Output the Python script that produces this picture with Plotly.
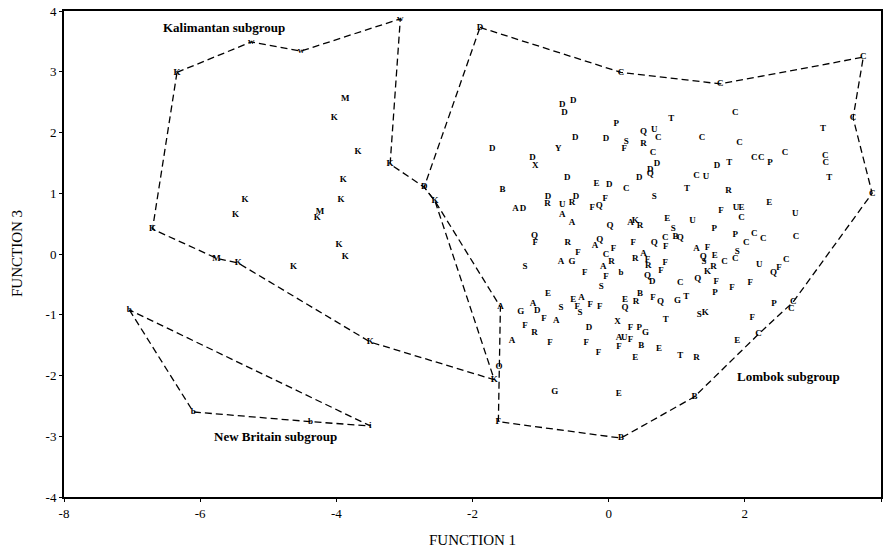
import plotly.graph_objects as go

# ---------------- data (discriminant scores) ----------------
# Kalimantan subgroup hull (vertex labels and coordinates)
kal_hull_labels = ["K", "w", "w", "w", "K", "D", "K", "K", "K", "K", "M", "K"]
kal_hull_f1 = [-6.34, -5.25, -4.52, -3.06, -3.21, -2.71, -2.55, -1.68, -3.50, -5.44, -5.76, -6.70]
kal_hull_f3 = [2.99, 3.49, 3.34, 3.87, 1.48, 1.10, 0.87, -2.07, -1.45, -0.15, -0.07, 0.41]

# Kalimantan interior points
kal_labels = ["M", "K", "K", "K", "K", "K", "K", "M", "K", "K", "K", "K"]
kal_f1 = [-3.87, -4.03, -3.68, -3.90, -5.34, -3.93, -5.48, -4.24, -4.28, -3.96, -3.87, -4.63]
kal_f3 = [2.55, 2.25, 1.68, 1.23, 0.90, 0.90, 0.64, 0.69, 0.59, 0.15, -0.05, -0.21]

# New Britain subgroup hull
nb_labels = ["b", "b", "b", "i"]
nb_f1 = [-7.04, -6.10, -4.38, -3.50]
nb_f3 = [-0.92, -2.60, -2.76, -2.83]

# Lombok subgroup hull (last two vertices shared with Kalimantan hull)
lom_hull_labels = ["D", "C", "C", "C", "C", "C", "C", "C", "B", "B", "F", "O", "A", "", ""]
lom_hull_f1 = [-1.89, 0.18, 1.64, 3.74, 3.59, 3.87, 2.71, 2.20, 1.26, 0.18, -1.62, -1.61, -1.59, -2.55, -2.71]
lom_hull_f3 = [3.73, 2.99, 2.80, 3.24, 2.24, 1.00, -0.79, -1.32, -2.35, -3.03, -2.76, -1.86, -0.87, 0.87, 1.10]

# Lombok interior points (labels in groups of ten)
lom_labels = list(
    "DDDPTQUCDD" "SFRDYDXCDD" "QDDBEDCSTD" "RDRUFQFADA" "AQAKRESBQC"
    "QFRFQAFQFC" "FRAGSFAFbR" "AFRFFQDCSE" "EAFSFFEQRB" "FQGTSGADFA"
    "DXTFRAFFFP" "GAUFFBEFET" "RGEUPPCCCA" "FQSERCCSCU" "QFCQKFPFFP"
    "SKFECCCTCC" "PCCCTDTCUR" "EFUECUC"
)
lom_f1 = [
    -0.68, -0.52, -0.65, 0.11, 0.92, 0.51, 0.67, 0.73, -0.49, -0.04,
    0.26, 0.23, 0.51, -1.71, -0.74, -1.12, -1.08, 0.65, 0.71, 0.61,
    0.61, -0.61, 0.45, -1.56, -0.18, 0.01, 0.26, 0.67, 1.15, -0.89,
    -0.90, -0.48, -0.54, -0.68, -0.05, -0.14, -0.24, -1.37, -1.26, -0.68,
    -0.54, 0.02, 0.32, 0.39, 0.46, 0.86, 0.95, 0.98, 1.05, 0.83,
    -1.09, -1.08, -0.60, -0.45, -0.13, -0.20, 0.36, 0.67, 0.84, -0.04,
    0.07, 0.04, -0.70, -0.54, -1.23, -0.35, -0.08, -0.04, 0.18, 0.39,
    0.51, 0.57, 0.58, 0.83, 0.77, 0.57, 0.64, 1.05, -0.11, -0.89,
    -0.52, -0.40, -0.46, -0.42, -0.27, -0.13, 0.24, 0.24, 0.40, 0.46,
    0.65, 0.76, 1.01, 1.14, -0.70, -1.29, -1.11, -1.05, -0.95, -0.77,
    -0.29, 0.13, 0.84, -1.23, -1.09, -1.42, -0.86, -0.33, 0.32, 0.45,
    0.54, 0.15, 0.23, 0.32, 0.15, 0.48, 0.74, -0.15, 0.39, 1.05,
    1.29, -0.79, 0.15, 1.23, 1.55, 1.86, 2.14, 2.27, 2.75, 1.29,
    1.45, 1.39, 1.40, 1.56, 1.54, 1.70, 1.86, 1.89, 2.02, 2.21,
    2.42, 2.50, 2.61, 1.31, 1.45, 1.58, 1.56, 1.81, 2.08, 2.43,
    1.33, 1.42, 2.11, 1.89, 1.86, 1.37, 1.92, 3.15, 2.14, 2.24,
    2.37, 2.59, 3.18, 3.19, 3.24, 1.59, 1.77, 1.29, 1.43, 1.76,
    2.36, 1.65, 1.87, 1.95, 1.95, 2.74, 2.68,
]
lom_f3 = [
    2.45, 2.52, 2.32, 2.14, 2.22, 2.01, 2.04, 1.91, 1.91, 1.89,
    1.84, 1.73, 1.81, 1.73, 1.74, 1.58, 1.45, 1.66, 1.48, 1.38,
    1.32, 1.25, 1.25, 1.05, 1.15, 1.14, 1.07, 0.95, 1.07, 0.94,
    0.82, 0.94, 0.84, 0.81, 0.91, 0.79, 0.76, 0.74, 0.74, 0.64,
    0.51, 0.46, 0.51, 0.54, 0.46, 0.58, 0.41, 0.28, 0.26, 0.26,
    0.30, 0.18, 0.18, 0.02, 0.23, 0.13, 0.18, 0.18, 0.12, -0.02,
    0.08, -0.12, -0.13, -0.13, -0.21, -0.31, -0.21, -0.38, -0.31, -0.07,
    0.00, -0.10, -0.20, -0.15, -0.28, -0.35, -0.46, -0.48, -0.54, -0.66,
    -0.76, -0.72, -0.87, -0.97, -0.84, -0.86, -0.76, -0.89, -0.79, -0.66,
    -0.72, -0.79, -0.77, -0.71, -0.89, -0.95, -0.82, -0.94, -1.07, -1.10,
    -1.22, -1.12, -1.09, -1.18, -1.30, -1.43, -1.46, -1.46, -1.22, -1.22,
    -1.30, -1.38, -1.38, -1.41, -1.53, -1.51, -1.56, -1.63, -1.71, -1.68,
    -1.71, -2.27, -2.30, 0.54, 0.41, 0.31, 0.33, 0.25, 0.28, 0.08,
    0.10, -0.05, -0.13, -0.03, -0.21, -0.12, -0.08, 0.03, 0.18, -0.18,
    -0.31, -0.23, -0.10, -0.40, -0.30, -0.46, -0.63, -0.56, -0.48, -0.82,
    -1.00, -0.97, -1.05, -1.43, 2.32, 1.92, 1.83, 2.07, 1.58, 1.58,
    1.51, 1.66, 1.61, 1.51, 1.25, 1.46, 1.51, 1.28, 1.27, 1.04,
    0.84, 0.72, 0.76, 0.76, 0.59, 0.67, -0.90,
]

x_ticks = [-8, -6, -4, -2, 0, 2, 4]
y_ticks = [-4, -3, -2, -1, 0, 1, 2, 3, 4]

# subgroup captions
group_names = ["Kalimantan subgroup", "New Britain subgroup", "Lombok subgroup"]
group_f1 = [-5.65, -4.90, 2.64]
group_f3 = [3.73, -3.01, -2.01]

# ---------------- figure ----------------
SERIF = "Liberation Serif, Times New Roman, serif"
dash_line = dict(color="black", width=1.3, dash="7px,4px")
pt_font = dict(family=SERIF, size=9, color="black", weight="bold")

fig = go.Figure()

def closed(v):
    return list(v) + [v[0]]

fig.add_trace(go.Scatter(x=closed(kal_hull_f1), y=closed(kal_hull_f3), mode="lines",
                         line=dash_line, hoverinfo="skip"))
fig.add_trace(go.Scatter(x=closed(lom_hull_f1), y=closed(lom_hull_f3), mode="lines",
                         line=dash_line, hoverinfo="skip"))
fig.add_trace(go.Scatter(x=closed(nb_f1), y=closed(nb_f3), mode="lines",
                         line=dash_line, hoverinfo="skip"))

for xs, ys, ts in [
    (kal_hull_f1, kal_hull_f3, kal_hull_labels),
    (kal_f1, kal_f3, kal_labels),
    (nb_f1, nb_f3, nb_labels),
    (lom_hull_f1, lom_hull_f3, lom_hull_labels),
    (lom_f1, lom_f3, lom_labels),
]:
    fig.add_trace(go.Scatter(x=xs, y=ys, mode="text", text=ts,
                             textposition="middle center", textfont=pt_font))

for name, gx, gy in zip(group_names, group_f1, group_f3):
    fig.add_annotation(x=gx, y=gy, text="<b>" + name + "</b>", showarrow=False,
                       font=dict(family=SERIF, size=13, color="black"))

# axis titles placed as paper annotations (keeps the plot frame fixed)
title_font = dict(family=SERIF, size=15, color="black")
fig.add_annotation(xref="paper", yref="paper", x=0.5, y=-0.088, text="FUNCTION 1",
                   showarrow=False, font=title_font, xanchor="center", yanchor="middle")
fig.add_annotation(xref="paper", yref="paper", x=-0.0575, y=0.5, text="FUNCTION 3",
                   showarrow=False, font=title_font, textangle=-90,
                   xanchor="center", yanchor="middle")

axis_common = dict(showgrid=False, zeroline=False, showline=True, linecolor="black",
                   linewidth=2, mirror=True, ticks="outside", ticklen=3,
                   tickcolor="black", automargin=False,
                   tickfont=dict(family=SERIF, size=13, color="black"))

fig.update_layout(
    width=884, height=553,
    margin=dict(l=64, r=3, t=11, b=56),
    paper_bgcolor="white", plot_bgcolor="white",
    showlegend=False,
    xaxis=dict(range=[-8, 4], tickvals=x_ticks, ticktext=[str(v) for v in x_ticks],
               **axis_common),
    yaxis=dict(range=[-4, 4], tickvals=y_ticks, ticktext=[str(v) for v in y_ticks],
               **axis_common),
)

# remove the browser's default page margin so the figure sits at the window origin
fig.write_html("out.html", config={"displayModeBar": False},
               post_script="document.body.style.margin='0';document.body.style.overflow='hidden';")
